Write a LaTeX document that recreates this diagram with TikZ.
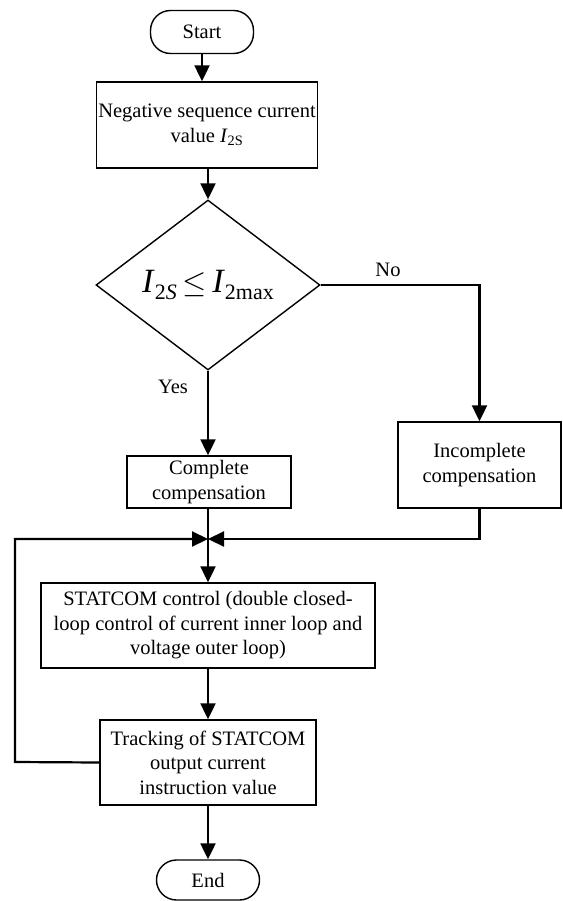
\documentclass[tikz,border=0pt]{standalone}
\usepackage{fontspec}
\setmainfont{Liberation Serif}
\usetikzlibrary{shapes.geometric,arrows.meta}
\begin{document}
\begin{tikzpicture}[x=1pt,y=-1pt,
  every node/.style={font=\fontsize{20.5}{24.5}\selectfont},
  boxnode/.style={draw,line width=1.4pt,inner sep=2pt,align=center},
  termnode/.style={draw,line width=1.4pt,rounded corners=20pt,inner sep=0pt},
  decnode/.style={draw,diamond,line width=1.4pt,inner sep=0pt},
  conn/.style={line width=2.2pt},
  arr/.style={conn,-{Triangle[length=16pt,width=15pt]}},
  lbl/.style={inner sep=0pt}]
\useasboundingbox (0,0) rectangle (562,901);
\node[termnode,minimum width=103pt,minimum height=43pt] (start) at (202,32) {Start};
\node[boxnode,minimum width=218pt,minimum height=86pt] (b1) at (207,125)
  {Negative sequence current\\value \textit{I}\textsubscript{2S}};
\node[decnode,minimum width=224pt,minimum height=170pt] (dec) at (208,285)
  {\fontsize{34}{36}\selectfont\textit{I}\raisebox{-7pt}{\fontsize{22}{24}\selectfont 2\textit{S}}\,\scalebox{1.25}{$\leq$}\,\textit{I}\raisebox{-7pt}{\fontsize{22}{24}\selectfont 2max}};
\node[boxnode,minimum width=164pt,minimum height=52pt] (comp) at (209,482)
  {Complete\\compensation};
\node[boxnode,minimum width=163pt,minimum height=86pt] (incomp) at (479.5,465)
  {Incomplete\\compensation};
\node[boxnode,minimum width=334pt,minimum height=85pt] (stat) at (208,625.5)
  {STATCOM control (double closed-\\loop control of current inner loop and\\voltage outer loop)};
\node[boxnode,minimum width=216pt,minimum height=85pt] (track) at (208,762.5)
  {Tracking of STATCOM\\output current\\instruction value};
\node[termnode,minimum width=103pt,minimum height=40pt] (end) at (208,880) {End};
\node[lbl] (yes) at (173,387) {Yes};
\node[lbl] (no) at (388,270) {No};
\coordinate (j) at (208,539);
\coordinate (fb) at (15,762);
\draw[arr] (start.south) -- (start.south |- b1.north);
\draw[arr] (dec.north |- b1.south) -- (dec.north);
\draw[arr] (dec.south) -- (dec.south |- comp.north);
\draw[arr] (dec.east) -| (incomp.north);
\draw[conn] (j |- comp.south) -- (j);
\draw[arr] (j) -- (j |- stat.north);
\draw[arr] (incomp.south) |- (j);
\draw[arr] (track.west) -- (fb) |- (j);
\draw[arr] (stat.south) -- (track.north);
\draw[arr] (track.south) -- (end.north);
\end{tikzpicture}
\end{document}
